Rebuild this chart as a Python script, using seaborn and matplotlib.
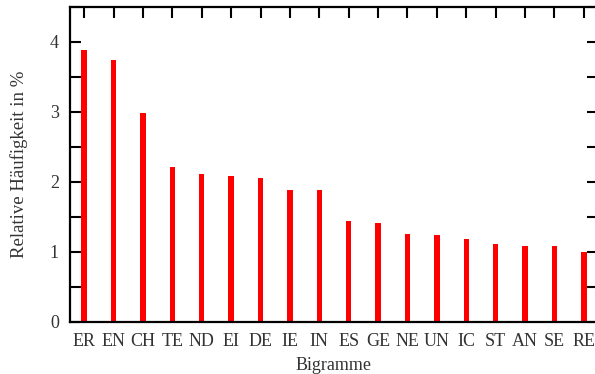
import matplotlib
matplotlib.use("Agg")
import matplotlib.pyplot as plt
import pandas as pd
import seaborn as sns
from matplotlib.ticker import MultipleLocator

bigrams = ["ER", "EN", "CH", "TE", "ND", "EI", "DE", "IE", "IN",
           "ES", "GE", "NE", "UN", "IC", "ST", "AN", "SE", "RE"]
freq = [3.89, 3.75, 2.98, 2.21, 2.11, 2.08, 2.06, 1.88, 1.88,
        1.45, 1.41, 1.26, 1.24, 1.19, 1.11, 1.09, 1.08, 1.00]

df = pd.DataFrame({"bigram": bigrams, "freq": freq})

sns.set_style("ticks")
plt.rcParams["font.family"] = ["Liberation Serif", "DejaVu Serif"]

fig = plt.figure(figsize=(5.95, 3.74), dpi=100)
ax = fig.add_axes([70 / 595, (374 - 322) / 374, 528 / 595, 315 / 374])

sns.barplot(data=df, x="bigram", y="freq", color="#ff0000", width=0.19,
            saturation=1, ax=ax, zorder=1, linewidth=0)

ax.set_xlim(-0.48, 17.48)
ax.set_ylim(0, 4.5)
ax.yaxis.set_major_locator(MultipleLocator(1))
ax.yaxis.set_minor_locator(MultipleLocator(0.5))

for s in ax.spines.values():
    s.set_linewidth(1.6)
    s.set_color("black")
    s.set_visible(True)

ax.tick_params(which="both", direction="in", top=True, right=True,
               length=8, width=1.5, color="black", labelsize=13,
               labelcolor="#333333")
ax.tick_params(axis="x", pad=8)
ax.tick_params(axis="y", pad=8)

ax.set_xlabel("Bigramme", fontsize=13, color="#333333", labelpad=5)
ax.set_ylabel("Relative Häufigkeit in %", fontsize=13.5, color="#333333",
              labelpad=16)

fig.savefig("out.png", dpi=100)
